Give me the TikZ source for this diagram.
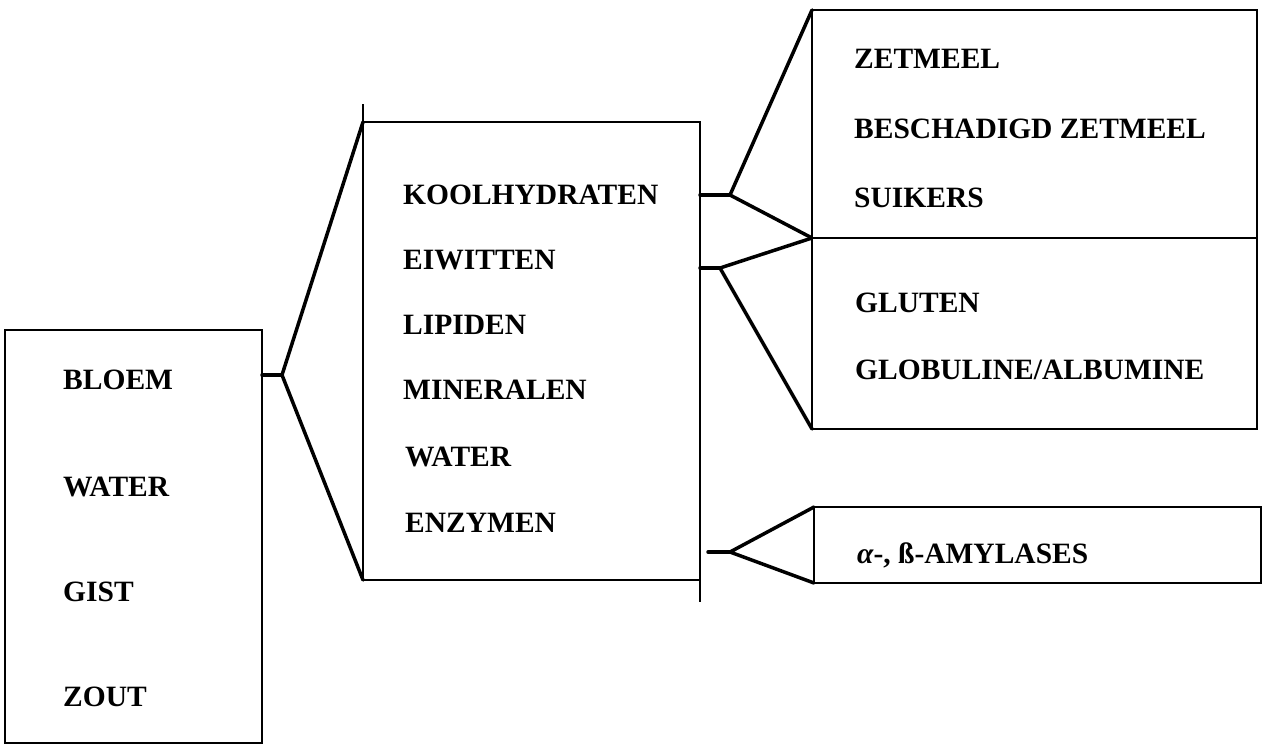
\documentclass[tikz,border=0pt]{standalone}
\usepackage{fontspec}
\setmainfont{Liberation Serif}
\begin{document}
\begin{tikzpicture}[x=1pt,y=-1pt,
  box/.style={draw, line width=2.5pt, inner sep=0pt, outer sep=0pt, anchor=north west},
  conn/.style={line width=3.5pt, line cap=round, line join=round},
  lab/.style={anchor=west, inner sep=0pt, font=\fontsize{29.5}{34}\selectfont\bfseries}]
\useasboundingbox (0,0) rectangle (1264,753);
% boxes
\node[box, minimum width=257pt, minimum height=413pt] (ingr) at (5,330) {};
\node[box, minimum width=337pt, minimum height=458pt] (comp) at (363,122) {};
\node[box, minimum width=445pt, minimum height=228pt] (carb) at (812,10) {};
\node[box, minimum width=445pt, minimum height=191pt] (prot) at (812,238) {};
\node[box, minimum width=447pt, minimum height=76pt] (enz) at (814,507) {};
\draw[line width=2.5pt] (comp.north west) -- ++(0,-18);
\draw[line width=2pt] (comp.south east) -- ++(0,22);
% labels
\node[lab] (bloem) at (63,380) {BLOEM};
\node[lab] (water1) at (63,487) {WATER};
\node[lab] (gist) at (63,592) {GIST};
\node[lab] (zout) at (63,697) {ZOUT};
\node[lab] (kool) at (403,195) {KOOLHYDRATEN};
\node[lab] (eiw) at (403,260) {EIWITTEN};
\node[lab] (lip) at (403,325) {LIPIDEN};
\node[lab] (min) at (403,390) {MINERALEN};
\node[lab] (water2) at (405,457) {WATER};
\node[lab] (enzy) at (405,523) {ENZYMEN};
\node[lab] (zet) at (854,59) {ZETMEEL};
\node[lab] (besch) at (854,129) {BESCHADIGD ZETMEEL};
\node[lab] (suik) at (854,198) {SUIKERS};
\node[lab] (glut) at (855,303) {GLUTEN};
\node[lab] (glob) at (855,370) {GLOBULINE/ALBUMINE};
\node[lab, anchor=base west] (amyl) at (857,563) {{\itshape α}-, ß-AMYLASES};
% connectors
\coordinate (a1) at (282,375);
\coordinate (a2) at (730,195);
\coordinate (a3) at (720,268);
\coordinate (a4) at (730,552);
\coordinate (s4) at (708,552);
\draw[conn] (ingr.east |- a1) -- (a1);
\draw[conn] (comp.north west) -- (a1) -- (comp.south west);
\draw[conn] (comp.east |- a2) -- (a2);
\draw[conn] (carb.north west) -- (a2) -- (carb.south west);
\draw[conn] (comp.east |- a3) -- (a3);
\draw[conn] (prot.north west) -- (a3) -- (prot.south west);
\draw[conn] (s4) -- (a4);
\draw[conn] (enz.north west) -- (a4) -- (enz.south west);
\end{tikzpicture}
\end{document}
